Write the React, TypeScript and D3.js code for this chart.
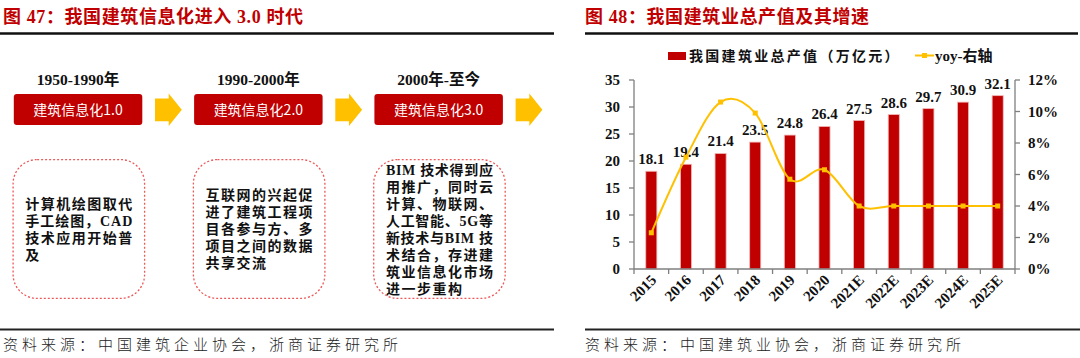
import React from "react";
import * as d3 from "d3";

// left diagram
const periods = ["1950-1990年", "1990-2000年", "2000年-至今"];
const stages = ["建筑信息化1.0", "建筑信息化2.0", "建筑信息化3.0"];
const notes = [
  ["计算机绘图取代", "手工绘图，CAD", "技术应用开始普", "及"],
  ["互联网的兴起促", "进了建筑工程项", "目各参与方、多", "项目之间的数据", "共享交流"],
  [
    "BIM 技术得到应",
    "用推广，同时云",
    "计算、物联网、",
    "人工智能、5G等",
    "新技术与BIM 技",
    "术结合，存进建",
    "筑业信息化市场",
    "进一步重构",
  ],
];

// right chart
const years = ["2015", "2016", "2017", "2018", "2019", "2020", "2021E", "2022E", "2023E", "2024E", "2025E"];
const output = [18.1, 19.4, 21.4, 23.5, 24.8, 26.4, 27.5, 28.6, 29.7, 30.9, 32.1];
const yoy = [2.3, 7.1, 10.6, 9.9, 5.7, 6.3, 4.0, 4.0, 4.0, 4.0, 4.0];
const leftTicks = [0, 5, 10, 15, 20, 25, 30, 35];
const rightTicks = [0, 2, 4, 6, 8, 10, 12];

const RED = "#c00000";
const GOLD = "#ffc000";
const SERIF = "'Liberation Serif','Times New Roman','Noto Sans CJK SC',serif";
const SANS = "'Noto Sans CJK SC','Noto Sans',sans-serif";

function Diagram() {
  const col = d3.scaleLinear().domain([0, 1]).range([13.8, 194.1]);
  const boxW = 128.5;
  const lineH = 17;
  const midY = 229;
  return (
    <g>
      {stages.map((s, i) => {
        const x0 = col(i);
        const ax = x0 + 141.2;
        const lines = notes[i];
        const top = midY - ((lines.length - 1) * lineH) / 2;
        return (
          <g key={s}>
            <text x={x0 + boxW / 2} y={85} textAnchor="middle" fontFamily={SERIF} fontWeight="bold" fontSize={15.5} fill="#111">
              {periods[i]}
            </text>
            <rect x={x0} y={94} width={boxW} height={31} rx={3} fill={RED} />
            <text x={x0 + boxW / 2} y={114.5} textAnchor="middle" fontFamily={SANS} fontSize={14} fill="#fff">
              {s}
            </text>
            <path
              d={`M${ax},98.6 H${ax + 13.7} V93.4 L${ax + 26.8},109.8 L${ax + 13.7},126.1 V121.3 H${ax} Z`}
              fill={GOLD}
            />
            <rect
              x={x0 - 0.7}
              y={159.6}
              width={131.5}
              height={138.8}
              rx={24}
              fill="none"
              stroke="#ec5a5a"
              strokeWidth={1.3}
              strokeDasharray="2 2"
            />
            {lines.map((t, j) => {
              const last = j === lines.length - 1;
              return (
                <text
                  key={j}
                  x={x0 + 11.5}
                  y={top + j * lineH + 5}
                  fontFamily={SERIF}
                  fontWeight="bold"
                  fontSize={14}
                  fill="#111"
                  letterSpacing={last ? 1.5 : undefined}
                  textLength={last ? undefined : 107}
                  lengthAdjust="spacing"
                >
                  {t}
                </text>
              );
            })}
          </g>
        );
      })}
    </g>
  );
}

function BarLine() {
  const x = d3.scaleBand().domain(years).range([634, 1015]).paddingInner(0.68).paddingOuter(0.34);
  const yL = d3.scaleLinear().domain([0, 35]).range([269, 80]);
  const yR = d3.scaleLinear().domain([0, 12]).range([269, 80]);
  const cx = (d: string) => (x(d) as number) + x.bandwidth() / 2;
  const line = d3
    .line<number>()
    .x((_, i) => cx(years[i]))
    .y((v) => yR(v))
    .curve(d3.curveCardinal.tension(0));
  const step = x.step();
  const axisColor = "#7f7f7f";
  return (
    <g>
      {/* legend */}
      <rect x={668} y={52} width={18} height={8} fill={RED} />
      <text x={689} y={61} fontFamily={SANS} fontWeight="bold" fontSize={14} fill="#111" letterSpacing={2.3}>
        我国建筑业总产值（万亿元）
      </text>
      <line x1={915} x2={934} y1={55.5} y2={55.5} stroke={GOLD} strokeWidth={2} />
      <rect x={922} y={53} width={5} height={5} fill={GOLD} />
      <text x={935} y={61} fontFamily={SERIF} fontWeight="bold" fontSize={15} fill="#111">
        yoy-右轴
      </text>

      {/* bars */}
      {years.map((d, i) => (
        <g key={d}>
          <rect
            x={x(d)}
            y={yL(output[i])}
            width={x.bandwidth()}
            height={yL(0) - yL(output[i])}
            fill={RED}
            stroke="#f2b8b8"
            strokeWidth={0.8}
          />
          <text x={cx(d)} y={yL(output[i]) - 7} textAnchor="middle" fontFamily={SERIF} fontWeight="bold" fontSize={15} fill="#111">
            {output[i].toFixed(1)}
          </text>
        </g>
      ))}

      {/* axes */}
      <line x1={634} x2={634} y1={yL(35)} y2={yL(0)} stroke={axisColor} strokeWidth={1.3} />
      {leftTicks.map((t) => (
        <g key={t}>
          <line x1={629} x2={634} y1={yL(t)} y2={yL(t)} stroke={axisColor} strokeWidth={1.3} />
          <text x={620} y={yL(t) + 5} textAnchor="end" fontFamily={SERIF} fontWeight="bold" fontSize={15} fill="#111">
            {t}
          </text>
        </g>
      ))}
      <line x1={1015} x2={1015} y1={yR(12)} y2={yR(0)} stroke={axisColor} strokeWidth={1.3} />
      {rightTicks.map((t) => (
        <g key={t}>
          <line x1={1015} x2={1020} y1={yR(t)} y2={yR(t)} stroke={axisColor} strokeWidth={1.3} />
          <text x={1028} y={yR(t) + 5} fontFamily={SERIF} fontWeight="bold" fontSize={15} fill="#111">
            {t}%
          </text>
        </g>
      ))}
      <line x1={634} x2={1015} y1={269} y2={269} stroke={axisColor} strokeWidth={1.3} />
      {years.map((d, i) => (
        <line key={d} x1={634 + i * step} x2={634 + i * step} y1={269} y2={274} stroke={axisColor} strokeWidth={1.3} />
      ))}
      <line x1={1015} x2={1015} y1={269} y2={274} stroke={axisColor} strokeWidth={1.3} />
      {years.map((d) => (
        <text
          key={d}
          transform={`translate(${cx(d) + 6},${281}) rotate(-45)`}
          textAnchor="end"
          fontFamily={SERIF}
          fontWeight="bold"
          fontSize={15}
          fill="#111"
        >
          {d}
        </text>
      ))}

      {/* yoy line */}
      <path d={line(yoy) || ""} fill="none" stroke={GOLD} strokeWidth={2} />
      {yoy.map((v, i) => (
        <rect key={i} x={cx(years[i]) - 2.5} y={yR(v) - 2.5} width={5} height={5} fill={GOLD} />
      ))}
    </g>
  );
}

export default function App() {
  return (
    <svg
      width={1080}
      height={358}
      style={{ position: "absolute", left: 0, top: 0, background: "#fff" }}
    >
      <rect width={1080} height={358} fill="#fff" />
      {/* headers */}
      <text x={3} y={23} fontFamily={SERIF} fontWeight="bold" fontSize={18} fill={RED} letterSpacing={0.6}>
        图 47：我国建筑信息化进入 3.0 时代
      </text>
      <text x={585} y={23} fontFamily={SERIF} fontWeight="bold" fontSize={18} fill={RED} letterSpacing={0.6}>
        图 48：我国建筑业总产值及其增速
      </text>
      <line x1={0} x2={554} y1={33.5} y2={33.5} stroke="#111" strokeWidth={2.5} />
      <line x1={585} x2={1078} y1={33.5} y2={33.5} stroke="#111" strokeWidth={2.5} />

      <Diagram />
      <BarLine />

      {/* footers */}
      <line x1={0} x2={554} y1={329.5} y2={329.5} stroke="#222" strokeWidth={2} />
      <line x1={585} x2={1080} y1={329.5} y2={329.5} stroke="#222" strokeWidth={2} />
      <text x={3} y={350} fontFamily={SANS} fontWeight={300} fontSize={15} fill="#222" letterSpacing={4}>
        资料来源：中国建筑企业协会，浙商证券研究所
      </text>
      <text x={585} y={350} fontFamily={SANS} fontWeight={300} fontSize={15} fill="#222" letterSpacing={4}>
        资料来源：中国建筑业协会，浙商证券研究所
      </text>
    </svg>
  );
}
